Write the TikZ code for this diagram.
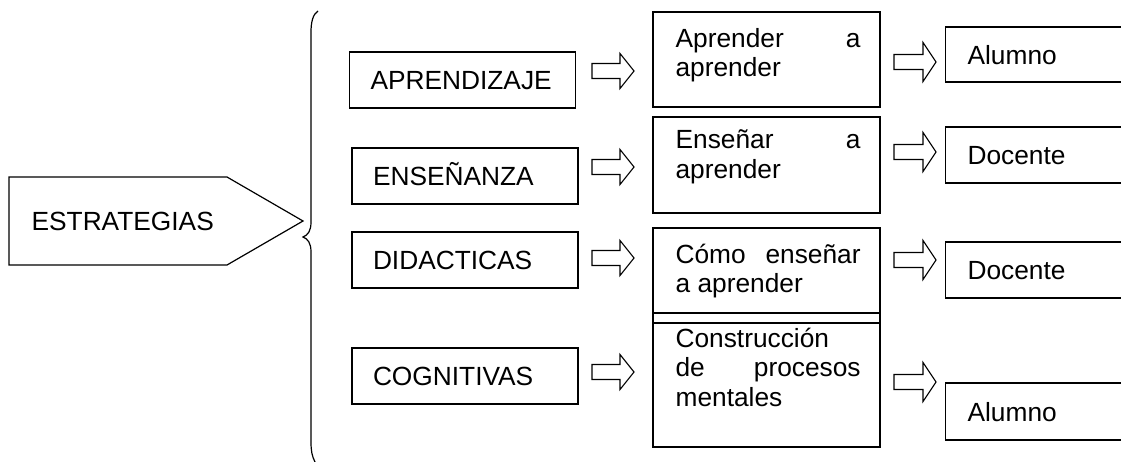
\documentclass[tikz,border=0pt]{standalone}
\usepackage{fontspec}
\setmainfont{Liberation Sans}
\begin{document}
\begin{tikzpicture}[x=1pt,y=-1pt,line width=1.2pt,
  txt/.style={font=\fontsize{26.3}{29.5}\selectfont},
  lbox/.style={txt,draw,text width=184pt,inner xsep=21pt,inner ysep=0pt,align=left,text height=19pt,text depth=0pt},
  mbox/.style={draw,minimum width=227pt,inner sep=0pt},
  mtext/.style={txt,anchor=base west,inner sep=0pt,align=left},
  rbox/.style={txt,draw,anchor=west,text width=180pt,inner xsep=22pt,inner ysep=0pt,align=left,text height=19pt,text depth=0pt},
  barrow/.style={line width=1.1pt,line join=miter}]
\useasboundingbox (0,0) rectangle (1121,461);
\clip (0,0) rectangle (1121,461);

% ESTRATEGIAS
\draw (9,177) -- (227,177) -- (303,221) -- (227,265) -- (9,265) -- cycle;
\node[txt,anchor=base west,inner sep=0pt] (est) at (31,230) {ESTRATEGIAS};

% brace
\draw (318,11) .. controls (313,14) and (311,22) .. (311,32) -- (311,222)
  .. controls (311,231) and (308,235) .. (303,237)
  .. controls (308,239) and (311,243) .. (311,252) -- (311,442)
  .. controls (311,451) and (312,456) .. (315,462);

% left boxes
\node[lbox,minimum height=56pt] (l1) at (462.5,80) {APRENDIZAJE};
\node[lbox,minimum height=56pt] (l2) at (465,176) {ENSEÑANZA};
\node[lbox,minimum height=56pt] (l3) at (465,260) {DIDACTICAS};
\node[lbox,minimum height=56pt] (l4) at (465,376) {COGNITIVAS};

% middle boxes
\node[mbox,minimum height=95pt] (m1) at (766.5,59.5) {};
\node[mbox,minimum height=96pt] (m2) at (766.5,165) {};
\node[mbox,minimum height=95pt] (m3) at (766.5,275.5) {};
\node[mbox,minimum height=134pt] (m4) at (766.5,380) {};
\node[mtext] (t1) at (675,76.5) {\hbox to185pt{Aprender\hfill a}\\aprender};
\node[mtext] (t2) at (675,178) {\hbox to185pt{Enseñar\hfill a}\\aprender};
\node[mtext] (t3) at (675,292.5) {\hbox to185pt{Cómo\hfill enseñar}\\a aprender};
\node[mtext] (t4) at (675,406) {Construcción\\\hbox to185pt{de\hfill procesos}\\mentales};

% right boxes
\node[rbox,minimum height=55pt] (r1) at (945,54.5) {Alumno};
\node[rbox,minimum height=56pt] (r2) at (945,155) {Docente};
\node[rbox,minimum height=56pt] (r3) at (945,270) {Docente};
\node[rbox,minimum height=57pt] (r4) at (945,411.5) {Alumno};

% block arrows
\foreach \n/\yy in {a1/71,a2/167,a3/258,a4/372}{
  \coordinate (\n) at (592,\yy);
  \draw[barrow] (\n) ++(0,-7.5) -- ++(28,0) -- ++(0,-10) -- ++(14,17.5) -- ++(-14,17.5) -- ++(0,-10) -- ++(-28,0) -- cycle;
}
\foreach \n/\yy in {b1/62,b2/152,b3/260,b4/382}{
  \coordinate (\n) at (894,\yy);
  \draw[barrow] (\n) ++(0,-7.5) -- ++(29,0) -- ++(0,-12) -- ++(13,19.5) -- ++(-13,19.5) -- ++(0,-12) -- ++(-29,0) -- cycle;
}
\end{tikzpicture}
\end{document}
